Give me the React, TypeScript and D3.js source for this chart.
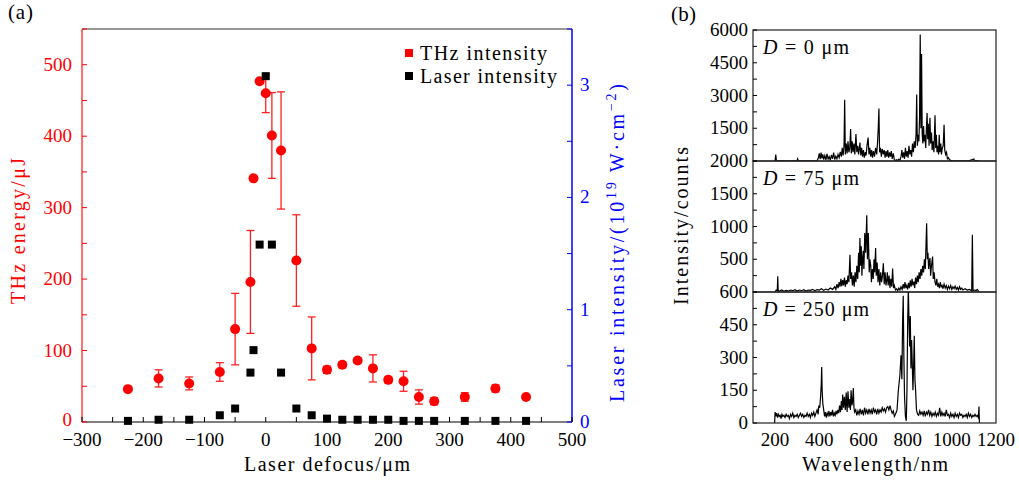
import React from "react";
import * as d3 from "d3";

// (a) THz energy and laser intensity vs. laser defocus
const defocus = [-225, -175, -125, -75, -50, -25, -20, -10, 0, 10, 25, 50, 75, 100, 125, 150, 175, 200, 225, 250, 275, 325, 375, 425];
const thzEnergy = [46, 61, 54, 70, 130, 196, 341, 477, 460, 401, 380, 226, 103, 73, 80, 86, 75, 59, 57, 35, 29, 35, 47, 35];
const thzError = [3, 12, 9, 13, 50, 72, 0, 0, 27, 60, 82, 64, 44, 5, 4, 4, 19, 4, 14, 10, 5, 6, 5, 3];
const laserIntensity = [0.01, 0.02, 0.02, 0.06, 0.12, 0.44, 0.64, 1.58, 3.08, 1.58, 0.44, 0.12, 0.06, 0.03, 0.02, 0.02, 0.02, 0.02, 0.01, 0.01, 0.01, 0.01, 0.01, 0.01];

const xTicksA = [-300, -200, -100, 0, 100, 200, 300, 400, 500];
const yTicksLeft = [0, 100, 200, 300, 400, 500];
const yTicksRight = [0, 1, 2, 3];

// (b) spectra, [wavelength nm, counts]
const spectrumD0: [number, number][] = [
  [195, 0], [200, 10], [203, 290], [206, 10], [220, 5], [240, 10], [260, 5], [280, 10], [300, 15], [302, 100], [305, 10], [330, 5], [350, 10], [370, 5], [390, 15],
  [396, 150], [400, 350], [404, 80], [408, 380], [412, 120], [416, 300], [420, 60], [425, 250], [430, 50], [435, 330], [440, 90], [445, 200], [450, 40], [455, 280],
  [460, 100], [465, 380], [470, 60], [475, 220], [480, 100], [485, 300], [490, 150], [495, 420], [500, 200], [504, 600], [508, 250], [512, 700], [515, 2800], [518, 300],
  [522, 800], [526, 350], [530, 900], [534, 400], [538, 600], [542, 1470], [545, 350], [549, 900], [553, 400], [557, 800], [561, 300], [566, 1240], [570, 400],
  [574, 700], [578, 300], [584, 840], [588, 250], [592, 600], [596, 200], [600, 500], [604, 150], [608, 400], [612, 250], [616, 700], [621, 1070], [625, 300],
  [629, 600], [633, 200], [637, 500], [641, 150], [645, 450], [650, 200], [655, 600], [660, 300], [664, 900], [667, 1500], [670, 2400], [673, 400], [677, 600],
  [681, 200], [685, 550], [690, 300], [694, 500], [698, 150], [702, 450], [706, 200], [710, 500], [714, 150], [718, 400], [722, 200], [726, 450], [730, 100],
  [735, 350], [740, 50], [745, 20], [750, 60], [755, 20], [760, 80], [765, 30], [770, 200], [774, 500], [778, 150], [782, 400], [786, 100], [790, 600], [794, 200],
  [798, 450], [802, 150], [806, 700], [810, 300], [814, 500], [818, 200], [822, 800], [826, 400], [830, 900], [834, 600], [838, 1200], [841, 3040], [844, 700],
  [848, 1200], [851, 900], [854, 2000], [857, 5790], [860, 1500], [863, 4900], [866, 1200], [869, 800], [872, 1600], [875, 900], [878, 1200], [882, 600],
  [885, 1500], [888, 2200], [891, 1000], [894, 1700], [897, 700], [901, 1980], [904, 800], [908, 1300], [911, 500], [915, 900], [919, 400], [924, 2100],
  [927, 600], [930, 1200], [933, 400], [936, 700], [940, 300], [943, 1200], [946, 400], [950, 800], [953, 300], [957, 600], [961, 700], [965, 1660], [968, 500],
  [972, 300], [976, 400], [980, 100], [985, 150], [990, 50], [995, 30], [1000, 10], [1020, 5], [1040, 10], [1060, 5], [1080, 15], [1100, 90], [1103, 10], [1120, 5], [1125, 0],
];

const spectrumD75: [number, number][] = [
  [200, 0], [205, 30], [210, 20], [212, 240], [214, 20], [220, 15], [230, 30], [240, 10], [250, 25], [260, 15], [270, 30], [280, 20], [290, 35], [300, 15],
  [310, 30], [320, 20], [330, 35], [340, 15], [350, 30], [360, 25], [370, 40], [380, 20], [390, 35], [400, 30], [410, 50], [420, 25], [430, 45], [440, 30],
  [450, 60], [460, 40], [470, 80], [475, 40], [480, 120], [485, 60], [490, 150], [494, 80], [498, 200], [502, 90], [506, 180], [510, 100], [514, 220], [518, 80],
  [522, 180], [526, 120], [530, 250], [534, 150], [539, 570], [542, 200], [546, 300], [550, 100], [554, 250], [558, 80], [562, 300], [566, 150], [570, 400],
  [574, 200], [578, 600], [581, 300], [584, 825], [587, 400], [590, 700], [593, 250], [596, 500], [599, 630], [602, 350], [606, 900], [610, 600], [615, 1170],
  [618, 500], [622, 900], [626, 300], [629, 500], [633, 400], [636, 150], [640, 350], [644, 200], [648, 500], [651, 300], [655, 670], [658, 250], [662, 450],
  [666, 150], [670, 350], [674, 100], [678, 300], [682, 150], [686, 250], [690, 440], [694, 120], [698, 300], [702, 100], [706, 200], [708, 300], [712, 100],
  [716, 250], [720, 60], [724, 200], [728, 80], [732, 360], [736, 60], [740, 100], [745, 30], [750, 50], [755, 20], [760, 60], [765, 30], [770, 80], [775, 40],
  [780, 120], [784, 50], [788, 150], [792, 60], [796, 100], [800, 40], [804, 140], [808, 60], [812, 180], [816, 80], [820, 200], [824, 100], [828, 160],
  [832, 60], [836, 220], [840, 120], [844, 250], [848, 150], [852, 300], [856, 200], [860, 350], [864, 250], [868, 400], [872, 300], [876, 500], [880, 350],
  [883, 700], [886, 1050], [889, 500], [892, 600], [895, 350], [898, 450], [901, 520], [904, 250], [908, 400], [913, 540], [916, 200], [920, 300], [924, 150],
  [928, 100], [932, 200], [936, 80], [940, 120], [944, 60], [948, 150], [952, 80], [956, 100], [960, 50], [965, 120], [970, 60], [975, 100], [980, 40],
  [985, 90], [990, 50], [995, 100], [1000, 40], [1005, 80], [1010, 50], [1015, 90], [1020, 40], [1025, 70], [1030, 30], [1035, 80], [1040, 40], [1045, 60],
  [1050, 30], [1060, 50], [1070, 30], [1080, 40], [1090, 20], [1093, 875], [1096, 20], [1105, 30], [1110, 20], [1115, 40], [1120, 20], [1122, 0],
];

const spectrumD250: [number, number][] = [
  [198, 0], [200, 50], [203, 30], [207, 45], [211, 25], [215, 40], [219, 30], [223, 35], [227, 20], [231, 40], [235, 30], [240, 35], [245, 25], [250, 40],
  [255, 30], [260, 35], [265, 20], [270, 40], [275, 30], [280, 45], [285, 25], [290, 35], [295, 30], [300, 40], [305, 25], [310, 35], [315, 45], [320, 30],
  [325, 40], [330, 25], [335, 35], [340, 30], [345, 45], [350, 30], [355, 40], [360, 25], [365, 45], [370, 35], [375, 50], [380, 30], [385, 45], [390, 60],
  [395, 40], [398, 80], [402, 70], [406, 120], [409, 180], [411, 256], [413, 150], [416, 90], [420, 60], [424, 30], [428, 50], [432, 25], [436, 45], [440, 35],
  [444, 55], [448, 30], [452, 50], [456, 35], [460, 60], [464, 30], [468, 45], [472, 35], [476, 55], [480, 40], [484, 60], [488, 45], [492, 80], [496, 50],
  [500, 100], [503, 60], [506, 130], [510, 70], [514, 120], [518, 60], [522, 140], [526, 50], [530, 145], [534, 70], [538, 110], [541, 60], [544, 150],
  [548, 80], [551, 100], [554, 160], [557, 70], [560, 50], [565, 60], [570, 35], [575, 55], [580, 40], [585, 65], [590, 40], [595, 60], [600, 35], [605, 70],
  [610, 45], [615, 60], [620, 40], [625, 65], [630, 45], [635, 60], [640, 40], [645, 70], [650, 50], [655, 60], [660, 40], [665, 65], [670, 45], [675, 60],
  [680, 50], [685, 70], [690, 55], [695, 65], [700, 50], [705, 70], [710, 75], [715, 60], [720, 80], [725, 60], [730, 45], [735, 55], [740, 30], [745, 40],
  [752, 60], [758, 150], [765, 220], [770, 310], [774, 200], [777, 450], [780, 583], [783, 300], [786, 120], [790, 30], [794, 10], [797, 150], [800, 450],
  [803, 620], [806, 480], [809, 350], [812, 490], [815, 250], [818, 380], [821, 270], [824, 150], [827, 260], [830, 400], [833, 200], [836, 150], [840, 60],
  [845, 40], [850, 35], [855, 55], [860, 40], [865, 50], [870, 35], [875, 55], [880, 30], [885, 50], [890, 40], [895, 60], [900, 35], [905, 50], [910, 30],
  [915, 45], [920, 35], [925, 50], [930, 30], [935, 45], [940, 35], [945, 70], [950, 30], [955, 50], [960, 35], [965, 45], [970, 30], [975, 60], [980, 35],
  [985, 40], [990, 25], [995, 45], [1000, 30], [1005, 40], [1010, 25], [1015, 45], [1020, 30], [1025, 40], [1030, 25], [1035, 45], [1040, 35], [1045, 40],
  [1050, 25], [1055, 35], [1060, 30], [1065, 40], [1070, 25], [1075, 45], [1080, 30], [1085, 40], [1090, 25], [1095, 35], [1100, 30], [1105, 40], [1110, 30],
  [1115, 35], [1120, 25], [1123, 75], [1125, 0],
];

const spectraLabels = ["0", "75", "250"];
const spectraMax = [6000, 2000, 600];
const spectraTickLabels = [[1500, 3000, 4500, 6000], [500, 1000, 1500, 2000], [0, 150, 300, 450, 600]];
const xTicksB = [200, 400, 600, 800, 1000, 1200];

const FONT = "'Liberation Serif', 'Times New Roman', serif";
const RED = "#ff0000";
const BLUE = "#0000ff";
const NUM = 19; // tick label size
const WORD = 20; // title / legend size

const PanelA = () => {
  const x = d3.scaleLinear().domain([-300, 500]).range([82, 572]);
  const yL = d3.scaleLinear().domain([0, 550]).range([422, 29]);
  const yR = d3.scaleLinear().domain([0, 3.5]).range([422, 29]);
  const bottom = 422;

  return (
    <g fontFamily={FONT}>
      <text x={8} y={19} fontSize={21} textLength={25}>(a)</text>

      {/* frame */}
      <line x1={82} x2={572} y1={29} y2={29} stroke="#333" strokeWidth={1.2} />
      <line x1={82} x2={572} y1={bottom} y2={bottom} stroke="#000" strokeWidth={1.2} />
      <line x1={82} x2={82} y1={29} y2={bottom} stroke="#ff4040" strokeWidth={1.5} />
      <line x1={572} x2={572} y1={29} y2={bottom} stroke={BLUE} strokeWidth={1.5} />

      {/* x ticks */}
      {d3.range(-300, 501, 50).map((v) => (
        <line key={"xt" + v} x1={x(v)} x2={x(v)} y1={bottom} y2={bottom - 5} stroke="#000" strokeWidth={1} />
      ))}
      {xTicksA.map((v) => (
        <text key={"xl" + v} x={x(v)} y={446} fontSize={NUM} textAnchor="middle">
          {v < 0 ? "\u2212" + Math.abs(v) : v}
        </text>
      ))}

      {/* left y ticks */}
      {d3.range(0, 551, 50).map((v) => (
        <line key={"yl" + v} x1={82} x2={87} y1={yL(v)} y2={yL(v)} stroke={RED} strokeWidth={1} />
      ))}
      {yTicksLeft.map((v) => (
        <text key={"yll" + v} x={72} y={yL(v) + (v === 0 ? 4 : 6)} fontSize={NUM} textAnchor="end" fill={RED}>{v}</text>
      ))}

      {/* right y ticks */}
      {d3.range(0, 3.51, 0.5).map((v) => (
        <line key={"yr" + v} x1={567} x2={572} y1={yR(v)} y2={yR(v)} stroke={BLUE} strokeWidth={1} />
      ))}
      {yTicksRight.map((v) => (
        <text key={"yrl" + v} x={580} y={yR(v) + 6} fontSize={NUM} fill={BLUE}>{v}</text>
      ))}

      {/* axis titles */}
      <text x={327} y={471} fontSize={WORD} textAnchor="middle" textLength={166}>Laser defocus/μm</text>
      <text transform="translate(25,231) rotate(-90)" fontSize={WORD} textAnchor="middle" fill={RED} textLength={146}>THz energy/μJ</text>
      <text transform="translate(624,243) rotate(-90)" fontSize={WORD} textAnchor="middle" fill={BLUE} textLength={318}>
        Laser intensity/(10<tspan dy={-8} fontSize={14}>19</tspan>
        <tspan dy={8}> W·cm</tspan>
        <tspan dy={-8} fontSize={14}>−2</tspan>
        <tspan dy={8}>)</tspan>
      </text>

      {/* THz error bars and points */}
      {defocus.map((d, i) =>
        thzError[i] > 0 ? (
          <g key={"eb" + i} stroke="#ff2020" strokeWidth={1.3}>
            <line x1={x(d)} x2={x(d)} y1={yL(thzEnergy[i] - thzError[i])} y2={yL(thzEnergy[i] + thzError[i])} />
            <line x1={x(d) - 4} x2={x(d) + 4} y1={yL(thzEnergy[i] - thzError[i])} y2={yL(thzEnergy[i] - thzError[i])} />
            <line x1={x(d) - 4} x2={x(d) + 4} y1={yL(thzEnergy[i] + thzError[i])} y2={yL(thzEnergy[i] + thzError[i])} />
          </g>
        ) : null
      )}
      {defocus.map((d, i) => (
        <circle key={"c" + i} cx={x(d)} cy={yL(thzEnergy[i])} r={5} fill={RED} />
      ))}
      {defocus.map((d, i) => (
        <rect key={"s" + i} x={x(d) - 4} y={yR(laserIntensity[i]) - 4} width={8} height={8} fill="#000" />
      ))}

      {/* legend */}
      <rect x={405} y={49} width={8} height={8} fill={RED} />
      <text x={420} y={60} fontSize={WORD} textLength={127}>THz intensity</text>
      <rect x={405} y={72} width={8} height={8} fill="#000" />
      <text x={420} y={83} fontSize={WORD} textLength={137}>Laser intensity</text>
    </g>
  );
};

const PanelB = () => {
  const x = d3.scaleLinear().domain([100, 1200]).range([753, 996]);
  const tops = [30, 161, 292];
  const h = 131;
  const spectra = [spectrumD0, spectrumD75, spectrumD250];
  const labelWidths = [86, 96, 106];

  return (
    <g fontFamily={FONT}>
      <text x={671} y={21} fontSize={21} textLength={25}>(b)</text>
      <defs>
        {tops.map((t, i) => (
          <clipPath id={"clipB" + i} key={"cp" + i}>
            <rect x={753} y={t} width={243} height={h} />
          </clipPath>
        ))}
      </defs>
      {spectra.map((data, i) => {
        const y = d3.scaleLinear().domain([0, spectraMax[i]]).range([tops[i] + h, tops[i]]);
        const line = d3.line<[number, number]>().x((d) => x(d[0])).y((d) => y(d[1]));
        const minor = d3.range(0, spectraMax[i] + 1, spectraMax[i] / 8);
        return (
          <g key={"p" + i}>
            <path d={line(data) || ""} fill="none" stroke="#000" strokeWidth={1.2} clipPath={`url(#clipB${i})`} />
            <rect x={753} y={tops[i]} width={243} height={h} fill="none" stroke="#222" strokeWidth={1.2} />
            {minor.map((v) => (
              <line key={"m" + v} x1={753} x2={757} y1={y(v)} y2={y(v)} stroke="#000" strokeWidth={1} />
            ))}
            {spectraTickLabels[i].map((v) => (
              <text key={"l" + v} x={748} y={y(v) + 6} fontSize={NUM} textAnchor="end">{v}</text>
            ))}
            <text x={763} y={tops[i] + 24} fontSize={WORD} textLength={labelWidths[i]}>
              <tspan fontStyle="italic">D</tspan> = {spectraLabels[i]} μm
            </text>
          </g>
        );
      })}
      {xTicksB.map((v) => (
        <text key={"xb" + v} x={x(v)} y={446} fontSize={NUM} textAnchor="middle">{v}</text>
      ))}
      <text x={875} y={471} fontSize={WORD} textAnchor="middle" textLength={146}>Wavelength/nm</text>
      <text transform="translate(688,226) rotate(-90)" fontSize={WORD} textAnchor="middle" textLength={158}>Intensity/counts</text>
    </g>
  );
};

export default function App() {
  return (
    <svg width={1019} height={481} style={{ position: "absolute", left: 0, top: 0, background: "#fff" }}>
      <PanelA />
      <PanelB />
    </svg>
  );
}
